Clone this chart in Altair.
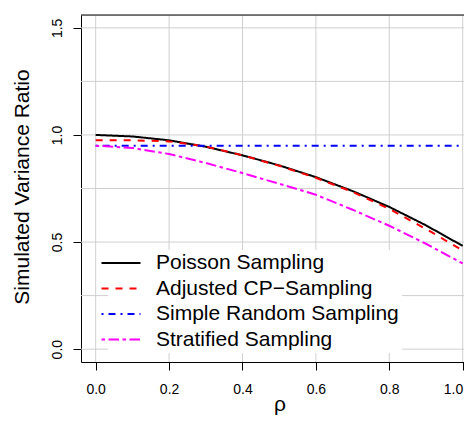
import altair as alt
import pandas as pd

# ---- data ----
rho = [0.0, 0.1, 0.2, 0.3, 0.4, 0.5, 0.6, 0.7, 0.8, 0.9, 1.0]
poisson = [1.000, 0.993, 0.975, 0.945, 0.905, 0.858, 0.803, 0.738, 0.664, 0.578, 0.482]
adjusted_cp = [0.975, 0.975, 0.970, 0.946, 0.905, 0.856, 0.800, 0.734, 0.655, 0.561, 0.461]
simple_random = [0.950, 0.950, 0.950, 0.950, 0.950, 0.950, 0.950, 0.950, 0.950, 0.950, 0.950]
stratified = [0.950, 0.939, 0.911, 0.869, 0.822, 0.772, 0.721, 0.651, 0.576, 0.492, 0.400]

names = ["Poisson Sampling", "Adjusted CP\u2212Sampling",
         "Simple Random Sampling", "Stratified Sampling"]
colors = ["black", "red", "blue", "magenta"]
dashes = [[1, 0], [7, 7], [2, 5, 7, 5], [3.5, 3.5, 10.5, 3.5]]

x_ticks = [0.0, 0.2, 0.4, 0.6, 0.8, 1.0]
y_ticks = [0.0, 0.5, 1.0, 1.5]
y_grid = [0.0, 0.25, 0.5, 0.75, 1.0, 1.25, 1.5]

series = [poisson, adjusted_cp, simple_random, stratified]
rows = []
for nm, vals in zip(names, series):
    for r, v in zip(rho, vals):
        rows.append({"rho": r, "ratio": v, "method": nm})
df = pd.DataFrame(rows)

FONT = "Liberation Sans"
W, H = 383, 347
PX_PER_UNIT = 367.0

xscale = alt.Scale(domain=[-0.04, -0.04 + W / PX_PER_UNIT], nice=False, zero=False)
yscale = alt.Scale(domain=[-0.06, 1.56], nice=False, zero=False)

xaxis = alt.Axis(values=x_ticks, format=".1f", grid=False, tickSize=8,
                 tickColor="black", domainColor="black", labelFont=FONT,
                 labelFontSize=14, labelColor="black", labelPadding=23.5,
                 labelBaseline="alphabetic", labelFlush=10, labelOverlap=False,
                 titleFont=FONT, titleFontSize=21, titleFontWeight="normal",
                 titleColor="black", titleBaseline="alphabetic",
                 titleY=48, titleX=198.5, titleAlign="center")
yaxis = alt.Axis(values=y_ticks, format=".1f", grid=False, tickSize=8,
                 tickColor="black", domainColor="black", labelFont=FONT,
                 labelFontSize=14, labelColor="black", labelAngle=-90,
                 labelAlign="center", labelBaseline="alphabetic",
                 labelPadding=11.3, labelFlush=False, labelOverlap=False,
                 titleFont=FONT, titleFontSize=21, titleFontWeight="normal",
                 titleColor="black", titleAngle=-90, titleBaseline="alphabetic",
                 titleX=-52.7, titleY=171.5, titleAlign="center")

X = lambda f: alt.X(f"{f}:Q", scale=xscale, axis=xaxis, title="\u03c1")
Y = lambda f: alt.Y(f"{f}:Q", scale=yscale, axis=yaxis, title="Simulated Variance Ratio")

gx = alt.Chart(pd.DataFrame({"rho": x_ticks})).mark_rule(
    color="#cfcfcf", strokeWidth=1).encode(x=X("rho"))
gy = alt.Chart(pd.DataFrame({"ratio": y_grid})).mark_rule(
    color="#cfcfcf", strokeWidth=1).encode(y=Y("ratio"))

legend = alt.Legend(title=None, orient="none", legendX=27, legendY=235,
                    symbolType="M-2,0H2", symbolSize=380, symbolStrokeWidth=2,
                    labelFont=FONT, labelFontSize=21, labelColor="black",
                    labelOffset=24, labelLimit=0, rowPadding=4.5, padding=2,
                    fillColor="white", strokeColor="white")

layers = [gx, gy]
for nm in names:
    layers.append(
        alt.Chart(df).transform_filter(alt.datum.method == nm)
        .mark_line(strokeWidth=2)
        .encode(
            x=X("rho"), y=Y("ratio"),
            color=alt.Color("method:N", scale=alt.Scale(domain=names, range=colors),
                            legend=legend, sort=names),
            strokeDash=alt.StrokeDash("method:N", scale=alt.Scale(domain=names, range=dashes),
                                      legend=legend, sort=names),
        )
    )

top_border = alt.Chart(pd.DataFrame({"rho": [0.0]})).mark_rule(
    color="black", strokeWidth=1).encode(
    x=alt.value(0), x2=alt.value(W), y=alt.value(0))
layers.append(top_border)

chart = alt.layer(*layers).properties(
    width=W, height=H, autosize="none",
    padding={"left": 73, "top": 7, "right": 0, "bottom": 53},
).configure_view(stroke=None).configure(background="white")

chart.save("out.html", embed_options={"renderer": "svg", "actions": False})
